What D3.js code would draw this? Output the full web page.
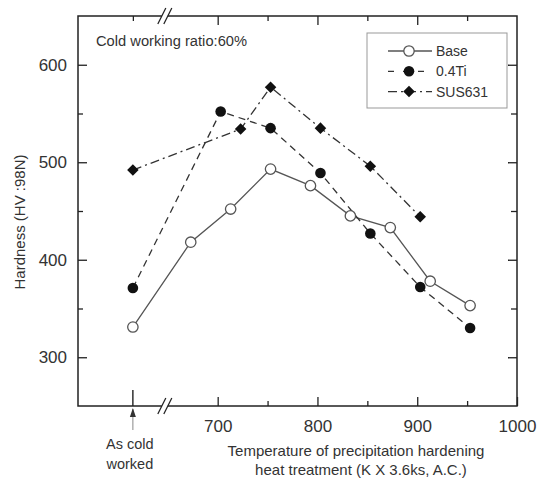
<!DOCTYPE html>
<html><head><meta charset="utf-8">
<script src="https://cdn.jsdelivr.net/npm/d3@7"></script>
<style>
body{margin:0;background:#fff}
svg{display:block}
text{font-family:"Liberation Sans",Arial,Helvetica,sans-serif;fill:#333}
</style>
</head><body><svg id="c" width="542" height="481"></svg>
<script>
// ---- data ----
const COLD = "As cold worked";
const baseTemps  = [COLD, 673, 713, 753, 793, 833, 873, 913, 953];
const baseValues = [331, 418, 452, 493, 476, 445, 433, 378, 353];
const tiTemps    = [COLD, 703, 753, 803, 853, 903, 953];
const tiValues   = [371, 552, 535, 489, 427, 372, 330];
const susTemps   = [COLD, 723, 753, 803, 853, 903];
const susValues  = [492, 534, 577, 535, 496, 444];
const seriesNames = ["Base", "0.4Ti", "SUS631"];
const xMajorTicks = [700, 800, 900, 1000];
const xMinorTicks = [750, 850, 950];
const yMajorTicks = [300, 400, 500, 600];
const yMinorTicks = [350, 450, 550];
const xDomain = [560, 1000];
const coldPosition = 615;   // axis position standing for the as-cold-worked state
const breakPosition = 647;  // axis break
const yDomain = [250, 650];
const xTitle = ["Temperature of precipitation hardening", "heat treatment (K X 3.6ks, A.C.)"];
const yTitle = "Hardness (HV :98N)";
const note = "Cold working ratio:60%";

// ---- layout ----
const L = 78, R = 517, T = 16, B = 406;
const svg = d3.select("#c");
const x = d3.scaleLinear().domain(xDomain).range([L, R]);
const y = d3.scaleLinear().domain(yDomain).range([B, T]);
const xpos = t => x(t === COLD ? coldPosition : t);
const ink = "#222";

// frame
svg.append("rect").attr("x", L).attr("y", T).attr("width", R - L).attr("height", B - T)
  .attr("fill", "none").attr("stroke", ink).attr("stroke-width", 1.5);

// axes (ticks inward)
const gB = svg.append("g").attr("transform", `translate(0,${B})`)
  .call(d3.axisBottom(x).tickValues(xMajorTicks).tickSize(-9).tickPadding(14).tickFormat(d3.format("d")));
const gBm = svg.append("g").attr("transform", `translate(0,${B})`)
  .call(d3.axisBottom(x).tickValues(xMinorTicks).tickSize(-5).tickFormat(""));
const gT = svg.append("g").attr("transform", `translate(0,${T})`)
  .call(d3.axisTop(x).tickValues(xMajorTicks.filter(d => d < 1000)).tickSize(-9).tickFormat(""));
const gTm = svg.append("g").attr("transform", `translate(0,${T})`)
  .call(d3.axisTop(x).tickValues(xMinorTicks.concat([coldPosition])).tickSize(-5).tickFormat(""));
const gL = svg.append("g").attr("transform", `translate(${L},0)`)
  .call(d3.axisLeft(y).tickValues(yMajorTicks).tickSize(-9).tickPadding(11).tickFormat(d3.format("d")));
const gLm = svg.append("g").attr("transform", `translate(${L},0)`)
  .call(d3.axisLeft(y).tickValues(yMinorTicks).tickSize(-5).tickFormat(""));
const gR = svg.append("g").attr("transform", `translate(${R},0)`)
  .call(d3.axisRight(y).tickValues(yMajorTicks).tickSize(-9).tickFormat(""));
const gRm = svg.append("g").attr("transform", `translate(${R},0)`)
  .call(d3.axisRight(y).tickValues(yMinorTicks).tickSize(-6).tickFormat(""));
[gB, gBm, gT, gTm, gL, gLm, gR, gRm].forEach(g => {
  g.select(".domain").remove();
  g.selectAll("line").attr("stroke", ink).attr("stroke-width", 1.3);
  g.selectAll("text").attr("font-size", 17).attr("fill", "#333").attr("font-family", null);
});
gB.selectAll("text").attr("dy", null).attr("y", 26);

// "as cold worked" tick + arrow
const xc = xpos(COLD);
svg.append("line").attr("x1", xc).attr("x2", xc).attr("y1", B).attr("y2", B - 16)
  .attr("stroke", ink).attr("stroke-width", 1.4);
svg.append("line").attr("x1", xc).attr("x2", xc).attr("y1", B + 3).attr("y2", B + 24)
  .attr("stroke", "#888").attr("stroke-width", 1);
svg.append("path").attr("d", `M${xc},${B + 2}L${xc - 3},${B + 11}L${xc + 3},${B + 11}Z`).attr("fill", "#333");
svg.append("text").attr("x", xc - 3).attr("y", B + 43).attr("text-anchor", "middle").attr("font-size", 14.5)
  .selectAll("tspan").data(["As cold", "worked"]).join("tspan")
  .attr("x", xc - 3).attr("dy", (d, i) => i ? 20 : 0).text(d => d);

// axis breaks
const xb = x(breakPosition);
[T, B].forEach(yy => {
  svg.append("rect").attr("x", xb - 3).attr("y", yy - 2).attr("width", 6).attr("height", 4).attr("fill", "#fff");
  [-3, 3].forEach(o => svg.append("line")
    .attr("x1", xb + o - 4).attr("y1", yy + 8).attr("x2", xb + o + 4).attr("y2", yy - 8)
    .attr("stroke", ink).attr("stroke-width", 1.3));
});

// titles
svg.append("text").attr("transform", `translate(25,222) rotate(-90)`).attr("text-anchor", "middle")
  .attr("font-size", 15).text(yTitle);
svg.append("text").attr("text-anchor", "middle").attr("font-size", 15)
  .selectAll("tspan").data(xTitle).join("tspan")
  .attr("x", (d, i) => i ? 361 : 356).attr("y", (d, i) => 456 + i * 18.5).text(d => d);
svg.append("text").attr("x", 96).attr("y", 46).attr("font-size", 14.7).text(note);

// series
const series = [
  {name: seriesNames[0], t: baseTemps, v: baseValues, dash: null, marker: "open"},
  {name: seriesNames[1], t: tiTemps, v: tiValues, dash: "7,5", marker: "dot"},
  {name: seriesNames[2], t: susTemps, v: susValues, dash: "9,4,2,4", marker: "diamond"}
];
const lineGen = d3.line().x(d => xpos(d[0])).y(d => y(d[1]));
function drawMarker(g, kind, cx, cy) {
  if (kind === "open") g.append("circle").attr("cx", cx).attr("cy", cy).attr("r", 5.2)
    .attr("fill", "#fff").attr("stroke", "#555").attr("stroke-width", 1.3);
  else if (kind === "dot") g.append("circle").attr("cx", cx).attr("cy", cy).attr("r", 5.3).attr("fill", "#111");
  else g.append("path").attr("d", d3.symbol(d3.symbolDiamond2, 85)()).attr("transform", `translate(${cx},${cy})`).attr("fill", "#111");
}
series.forEach(s => {
  const pts = s.t.map((t, i) => [t, s.v[i]]);
  svg.append("path").attr("d", lineGen(pts)).attr("fill", "none")
    .attr("stroke", s.marker === "open" ? "#555" : "#333").attr("stroke-width", 1.3)
    .attr("stroke-dasharray", s.dash);
});
series.forEach(s => {
  const g = svg.append("g");
  s.t.forEach((t, i) => drawMarker(g, s.marker, xpos(t), y(s.v[i])));
});

// legend
const lg = svg.append("g");
lg.append("rect").attr("x", 367).attr("y", 33).attr("width", 140).attr("height", 75)
  .attr("fill", "#fff").attr("stroke", "#999").attr("stroke-width", 1);
series.forEach((s, i) => {
  const yy = 51 + i * 20.3;
  lg.append("line").attr("x1", 388).attr("x2", 432).attr("y1", yy).attr("y2", yy)
    .attr("stroke", s.marker === "open" ? "#555" : "#333").attr("stroke-width", 1.3)
    .attr("stroke-dasharray", s.marker === "dot" ? "6,9" : s.dash);
  drawMarker(lg, s.marker, 409, yy);
  lg.append("text").attr("x", 436).attr("y", yy + 5).attr("font-size", 14).text(s.name);
});
</script>
</body></html>
